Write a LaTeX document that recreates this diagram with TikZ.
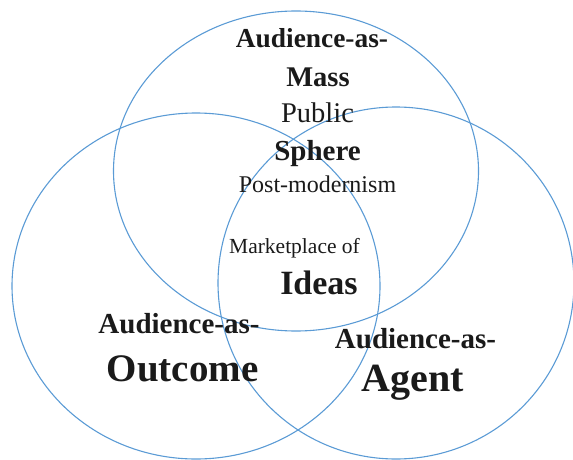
\documentclass[tikz,border=0pt]{standalone}
\usepackage{fontspec}
\setmainfont{Liberation Serif}
\definecolor{ringblue}{RGB}{91,155,213}
\definecolor{ink}{RGB}{26,26,26}

\begin{document}
\begin{tikzpicture}[x=1pt, y=-1pt,
		ring/.style={draw=ringblue, line width=1.1pt},
		lbl/.style={anchor=base, inner sep=0pt, text=ink}]
		\useasboundingbox (0,0) rectangle (573,460);
		\draw[ring] (296,171) ellipse [x radius=182.5pt, y radius=160pt];
		\draw[ring] (196,286) ellipse [x radius=184pt, y radius=173pt];
		\draw[ring] (396,283) ellipse [x radius=178pt, y radius=176pt];
		\node[lbl, font=\bfseries\fontsize{27.4}{30}\selectfont] (massA) at (312,48) {Audience-as-};
		\node[lbl, font=\bfseries\fontsize{28.5}{30}\selectfont] (mass) at (318,86) {Mass};
		\node[lbl, font=\fontsize{28.5}{30}\selectfont] (public) at (317.5,122) {Public};
		\node[lbl, font=\bfseries\fontsize{29}{30}\selectfont] (sphere) at (317.5,160) {Sphere};
		\node[lbl, font=\fontsize{24}{26}\selectfont] (postmod) at (317.5,192) {Post-modernism};
		\node[lbl, font=\fontsize{21.5}{24}\selectfont] (market) at (294.5,253) {Marketplace of};
		\node[lbl, font=\bfseries\fontsize{34}{36}\selectfont] (ideas) at (319,294) {Ideas};
		\node[lbl, font=\bfseries\fontsize{29}{30}\selectfont] (outA) at (179,333) {Audience-as-};
		\node[lbl, font=\bfseries\fontsize{39}{40}\selectfont] (outcome) at (182.5,381) {Outcome};
		\node[lbl, font=\bfseries\fontsize{29}{30}\selectfont] (agentA) at (415.5,348) {Audience-as-};
		\node[lbl, font=\bfseries\fontsize{40}{42}\selectfont] (agent) at (412.5,391) {Agent};
	\end{tikzpicture}
\end{document}
